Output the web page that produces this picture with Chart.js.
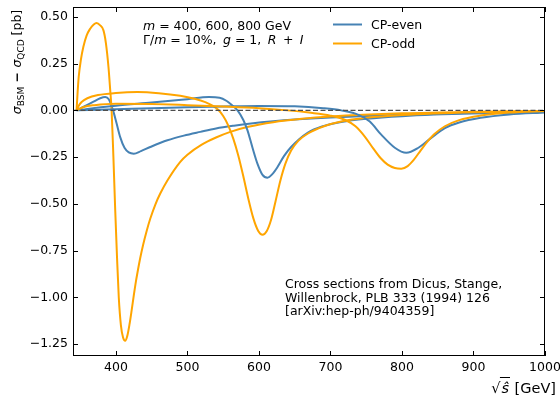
<!DOCTYPE html>
<html>
<head>
<meta charset="utf-8">
<script src="https://cdn.jsdelivr.net/npm/chart.js@4.4.1/dist/chart.umd.min.js"></script>
<style>
  html, body { margin: 0; padding: 0; background: #fff; }
  #wrap { width: 560px; height: 398px; }
</style>
</head>
<body>
<div id="wrap"><canvas id="xsChart" width="560" height="398"></canvas></div>
<script>
// sqrt(s) points and sigma_BSM - sigma_QCD [pb]
const evenX400 = [345, 355, 368, 378, 385, 390, 396, 401, 406, 412, 418, 425, 435, 448, 472, 495, 518, 540, 565, 589, 620, 650, 700, 750, 800, 900, 1000];
const evenY400 = [0, 0.02, 0.045, 0.065, 0.072, 0.06, 0.0, -0.07, -0.143, -0.2, -0.225, -0.232, -0.218, -0.196, -0.16, -0.135, -0.115, -0.097, -0.082, -0.07, -0.058, -0.049, -0.038, -0.03, -0.024, -0.015, -0.009];

const evenX600 = [345, 360, 400, 450, 500, 530, 545, 555, 563, 570, 578, 584, 591, 598, 605, 612, 619, 626, 635, 645, 668, 691, 715, 750, 800, 900, 1000];
const evenY600 = [0, 0.008, 0.025, 0.042, 0.06, 0.071, 0.068, 0.05, 0.025, 0.0, -0.05, -0.107, -0.2, -0.286, -0.345, -0.36, -0.34, -0.303, -0.245, -0.196, -0.12, -0.083, -0.062, -0.045, -0.031, -0.016, -0.009];

const evenX800 = [345, 400, 450, 500, 550, 600, 650, 690, 715, 740, 755, 771, 790, 806, 823, 840, 860, 880, 910, 950, 1000];
const evenY800 = [0, 0.006, 0.012, 0.017, 0.021, 0.024, 0.022, 0.012, 0.0, -0.025, -0.06, -0.13, -0.2, -0.227, -0.2, -0.15, -0.095, -0.065, -0.04, -0.022, -0.011];

const oddX400 = [345, 346.5, 348, 351, 354.5, 359, 364, 369, 373, 378, 382.6, 386, 389.6, 392, 394, 396.5, 399, 401.5, 404, 407, 410, 413, 416, 419, 422, 425, 428, 431, 434, 438, 443, 448, 455, 462, 472, 490, 500, 520, 540, 560, 585, 620, 660, 700, 800, 900, 1000];
const oddY400 = [0, 0.1, 0.18, 0.27, 0.34, 0.4, 0.437, 0.46, 0.468, 0.455, 0.428, 0.36, 0.232, 0.11, 0.0, -0.25, -0.53, -0.78, -1.0, -1.15, -1.215, -1.232, -1.205, -1.145, -1.07, -0.99, -0.915, -0.85, -0.79, -0.72, -0.645, -0.58, -0.505, -0.445, -0.375, -0.275, -0.237, -0.183, -0.145, -0.115, -0.088, -0.063, -0.045, -0.033, -0.016, -0.008, -0.004];

const oddX600 = [345, 348, 352, 360, 375, 400, 430, 460, 490, 510, 525, 535, 543, 550, 557, 564, 571, 578, 585, 592, 599, 605, 611, 617, 623, 630, 637, 645, 655, 668, 691, 715, 750, 800, 900, 1000];
const oddY600 = [0, 0.025, 0.045, 0.065, 0.082, 0.093, 0.098, 0.092, 0.078, 0.062, 0.044, 0.025, 0.003, -0.03, -0.08, -0.15, -0.24, -0.35, -0.47, -0.575, -0.645, -0.665, -0.645, -0.585, -0.49, -0.375, -0.285, -0.215, -0.163, -0.125, -0.085, -0.06, -0.04, -0.025, -0.01, -0.004];

const oddX800 = [345, 355, 370, 400, 450, 500, 550, 600, 640, 670, 700, 720, 735, 748, 760, 770, 780, 790, 799, 808, 817, 826, 835, 845, 860, 880, 910, 950, 1000];
const oddY800 = [0, 0.018, 0.028, 0.036, 0.034, 0.028, 0.021, 0.012, 0.0, -0.012, -0.028, -0.05, -0.085, -0.14, -0.205, -0.255, -0.29, -0.308, -0.312, -0.298, -0.262, -0.215, -0.17, -0.128, -0.085, -0.052, -0.028, -0.012, -0.003];

const zeroX = [340, 1000];
const zeroY = [0, 0];

const xTicks = [400, 500, 600, 700, 800, 900, 1000];
const yTicks = [-1.25, -1.0, -0.75, -0.5, -0.25, 0, 0.25, 0.5];

const BLUE = '#4682b4';
const ORANGE = '#ffa500';
const FONT = 'DejaVu Sans';

function pts(xs, ys) {
  return xs.map((x, i) => ({ x: x, y: ys[i] }));
}

function curve(xs, ys, color) {
  return {
    data: pts(xs, ys),
    borderColor: color,
    borderWidth: 2,
    pointRadius: 0,
    showLine: true,
    fill: false,
    cubicInterpolationMode: 'monotone'
  };
}

// draw a run of text pieces [text, font, dy]
function drawRich(ctx, parts, x, y, align) {
  let total = 0;
  parts.forEach(p => { ctx.font = p[1]; total += ctx.measureText(p[0]).width; });
  let cx = align === 'right' ? x - total : (align === 'center' ? x - total / 2 : x);
  parts.forEach(p => {
    ctx.font = p[1];
    ctx.fillText(p[0], cx, y + (p[2] || 0));
    cx += ctx.measureText(p[0]).width;
  });
  return total;
}

function noPad(s) {
  s.paddingLeft = 0; s.paddingRight = 0; s.paddingTop = 0; s.paddingBottom = 0;
}

const extras = {
  id: 'extras',
  afterDraw(chart) {
    const ctx = chart.ctx;
    const a = chart.chartArea;
    const xs = chart.scales.x, ys = chart.scales.y;
    const reg = '12.5px "' + FONT + '"';
    const ita = 'italic 12.5px "' + FONT + '"';
    const sub = '9px "' + FONT + '"';
    const th = '\u2009';
    ctx.save();
    ctx.fillStyle = '#000';
    ctx.strokeStyle = '#000';
    ctx.textBaseline = 'alphabetic';
    ctx.textAlign = 'left';

    // frame and inward ticks
    ctx.lineWidth = 1;
    ctx.strokeRect(a.left + 0.5, a.top + 0.5, a.right - a.left - 1, a.bottom - a.top - 1);
    ctx.beginPath();
    xTicks.forEach(v => {
      const px = Math.round(xs.getPixelForValue(v)) + 0.5;
      ctx.moveTo(px, a.bottom); ctx.lineTo(px, a.bottom - 5);
      ctx.moveTo(px, a.top); ctx.lineTo(px, a.top + 5);
    });
    yTicks.forEach(v => {
      const py = Math.round(ys.getPixelForValue(v)) + 0.5;
      ctx.moveTo(a.left, py); ctx.lineTo(a.left + 5, py);
      ctx.moveTo(a.right, py); ctx.lineTo(a.right - 5, py);
    });
    ctx.stroke();

    // parameter text
    drawRich(ctx, [['m', ita], [' = 400, 600, 800 GeV', reg]], 143, 29.5);
    drawRich(ctx, [['\u0393/', reg], ['m', ita], [' = 10%,' + th + ' ', reg], ['g', ita], [' = 1,' + th + ' ', reg],
      ['R', ita], [' ' + th + '+' + th + ' ', reg], ['I', ita]], 143, 44);

    // legend
    ctx.lineWidth = 2;
    ctx.strokeStyle = BLUE;
    ctx.beginPath(); ctx.moveTo(333, 24.5); ctx.lineTo(362, 24.5); ctx.stroke();
    ctx.strokeStyle = ORANGE;
    ctx.beginPath(); ctx.moveTo(333, 43.5); ctx.lineTo(362, 43.5); ctx.stroke();
    ctx.font = reg;
    ctx.fillText('CP-even', 371, 29);
    ctx.fillText('CP-odd', 371, 48);

    // reference text
    ctx.fillText('Cross sections from Dicus, Stange,', 285, 288);
    ctx.fillText('Willenbrock, PLB 333 (1994) 126', 285, 301.5);
    ctx.fillText('[arXiv:hep-ph/9404359]', 285, 315);

    // x label: sqrt(s-hat) [GeV]
    const big = '14.5px "' + FONT + '"';
    const bigI = 'italic 14.5px "' + FONT + '"';
    ctx.font = big;
    const wUnit = ctx.measureText(' [GeV]').width;
    const wRad = ctx.measureText('\u221a').width;
    ctx.font = bigI;
    const wS = ctx.measureText('\u015d').width + 2;
    const xEnd = 556;
    const xStart = xEnd - wUnit - wS - wRad;
    ctx.font = big;
    ctx.fillText('\u221a', xStart, 393);
    ctx.font = bigI;
    ctx.fillText('\u015d', xStart + wRad + 1, 393);
    ctx.font = big;
    ctx.fillText(' [GeV]', xStart + wRad + wS, 393);
    ctx.lineWidth = 1;
    ctx.strokeStyle = '#000';
    ctx.beginPath();
    ctx.moveTo(xStart + wRad - 0.5, 377.5);
    ctx.lineTo(xStart + wRad + wS, 377.5);
    ctx.stroke();

    // y label
    ctx.translate(20.5, 62);
    ctx.rotate(-Math.PI / 2);
    drawRich(ctx, [['\u03c3', ita], ['BSM', sub, 3], [' \u2212 ', 'bold 12.5px "' + FONT + '"'],
      ['\u03c3', ita], ['QCD', sub, 3], [' [pb]', reg]], 0, 0, 'center');
    ctx.restore();
  }
};

const ctx1 = document.getElementById('xsChart').getContext('2d');
new Chart(ctx1, {
  type: 'scatter',
  data: {
    datasets: [
      {
        data: pts(zeroX, zeroY),
        borderColor: '#4d4d4d',
        borderWidth: 1.4,
        borderDash: [5, 2.5],
        pointRadius: 0,
        showLine: true,
        fill: false
      },
      curve(oddX800, oddY800, ORANGE),
      curve(evenX800, evenY800, BLUE),
      curve(oddX600, oddY600, ORANGE),
      curve(evenX600, evenY600, BLUE),
      curve(oddX400, oddY400, ORANGE),
      curve(evenX400, evenY400, BLUE)
    ]
  },
  options: {
    responsive: false,
    animation: false,
    events: [],
    layout: { padding: { top: 7, right: 15, left: 0, bottom: 0 } },
    plugins: {
      legend: { display: false },
      tooltip: { enabled: false }
    },
    scales: {
      x: {
        type: 'linear',
        min: 340,
        max: 1000,
        afterFit: s => { s.height = 42; noPad(s); },
        afterBuildTicks: s => { s.ticks = xTicks.map(v => ({ value: v })); },
        grid: { display: false, drawTicks: false },
        border: { display: false },
        ticks: {
          padding: 4,
          color: '#000',
          font: { family: FONT, size: 12.5 },
          maxRotation: 0,
          callback: v => String(v)
        }
      },
      y: {
        type: 'linear',
        min: -1.314,
        max: 0.553,
        afterFit: s => { s.width = 73; noPad(s); },
        afterBuildTicks: s => { s.ticks = yTicks.map(v => ({ value: v })); },
        grid: { display: false, drawTicks: false },
        border: { display: false },
        ticks: {
          padding: 5,
          color: '#000',
          font: { family: FONT, size: 12.5 },
          callback: v => (v < 0 ? '\u2212' : '') + Math.abs(v).toFixed(2)
        }
      }
    }
  },
  plugins: [extras]
});
</script>
</body>
</html>
